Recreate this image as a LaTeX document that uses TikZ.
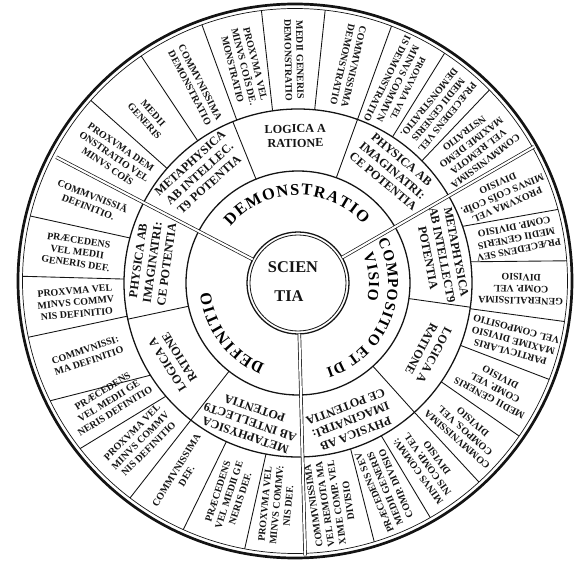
\documentclass[tikz,border=0pt]{standalone}
\usepackage{fontspec}
\setmainfont{Liberation Serif}
\usetikzlibrary{decorations.text}
\definecolor{inkC}{HTML}{141414}
\tikzset{
  rim/.style={draw=inkC, line width=1.1pt},
  sep/.style={draw=inkC, line width=0.75pt},
  axis/.style={draw=inkC, line width=0.6pt, double=white, double distance=1.8pt},
  celltext/.style={font=\bfseries\fontsize{8.5}{10}\selectfont, align=center, inner sep=0pt, text=inkC},
  blocktext/.style={font=\bfseries\fontsize{10.4}{12.3}\selectfont, align=center, inner sep=0pt, text=inkC},
  hubtext/.style={font=\bfseries\fontsize{14}{14}\selectfont, inner sep=0pt, text=inkC},
  arctext/.style={decorate, decoration={text along path, text align={fit to path}}},
}

\begin{document}
\begin{tikzpicture}[x=0.03cm, y=0.03cm]
\useasboundingbox (-298,-279) rectangle (282,283);
% rims
\draw[inkC, line width=2.3pt] (-3,2) circle[radius=277];
\draw[inkC, line width=0.6pt] (-3,2) circle[radius=272.5];
\draw[rim] (0,0) circle[radius=174];
\draw[rim] (0,0) circle[radius=112];
\draw[rim] (0,0) circle[radius=51];
\draw[inkC, line width=0.7pt] (0,0) circle[radius=48];
% middle ring separators
\foreach \a in {70,112,192,232,312,352}
  \draw[sep] (\a:112) -- (\a:174);
% outer ring separators
\begin{scope}
\clip (-3,2) circle[radius=272.5];
\foreach \ai/\ao in {19/15.5, 7/4.5, 351.5/351.8, 339/339, 325.4/325.3, 312/312.3,
    298.6/299.5, 287.6/286.3, 259.4/258.6, 245.7/245, 232/232, 220.6/217, 212/205,
    191/191.4, 178.7/178.6, 165/166, 138.8/138.6, 125.2/124.6, 110.6/110.4,
    98.4/97.6, 84.5/84.3, 70/70, 57.1/57.5, 44.6/45.3}
  \draw[sep] (\ai:174) -- (\ao:285);
\end{scope}
% the three axes
\foreach \a in {30,152.5,271.5}
  \draw[axis] (\a:51) -- (\a:272.5);

% hub
\node[hubtext] (scien) at (-5,16) {SCIEN};
\node[hubtext] (tia) at (-9,-13) {TIA};

% inner ring
\path[arctext, decoration={text={|\bfseries\fontsize{14}{14}\selectfont|DEMONSTRATIO}}]
  (140:88) arc[start angle=140, end angle=42, radius=88];
\path[arctext, decoration={text={|\bfseries\fontsize{13}{13}\selectfont|COMPOSITIO ET DI}}]
  (28:90) arc[start angle=28, end angle=-72, radius=90];
\path[arctext, decoration={text={|\bfseries\fontsize{13}{13}\selectfont|VISIO}}]
  (24:71) arc[start angle=24, end angle=-14, radius=71];
\path[arctext, decoration={text={|\bfseries\fontsize{14}{14}\selectfont|DEFINITIO}}]
  (248:88) arc[start angle=248, end angle=186, radius=88];

% middle ring
\foreach \a/\t [count=\k] in {91/{LOGICA A\\RATIONE},
    132/{METAPHYSICA\\AB INTELLEC.\\T9 POTENTIA},
    50/{PHYSICA AB\\IMAGINATRI:\\CE POTENTIA},
    11/{METAPHYSICA\\AB INTELLECT9\\POTENTIA},
    -28/{LOGICA A\\RATIONE},
    -69/{PHYSICA AB\\IMAGINATRI:\\CE POTENTIA},
    172/{PHYSICA AB\\IMAGINATRI:\\CE POTENTIA},
    212/{LOGICA A\\RATIONE},
    251/{METAPHYSICA\\AB INTELLECT9\\POTENTIA}}
  \node[blocktext, rotate=\a-90] (block\k) at (\a:147) {\t};

% outer ring
\foreach \a/\t [count=\k] in {37.5/{COMMVNISSIMA\\VEL REMOTA\\MAXIME DEMO\\NSTRATIO},
    51/{PRÆCEDENS VEL\\MEDII GENERIS\\DEMONSTRATIO.},
    63.5/{\fontsize{7.8}{9.6}\selectfont PROXVMA VEL\\MINVS COMMVN\\IS DEMONSTRATIO},
    77/{COMMVNISSIMA\\DEMONSTRATIO},
    91/{MEDII GENERIS\\DEMONSTRATIO},
    104/{PROXVMA VEL\\MINVS CO\~IS DE.\\MONSTRATIO},
    117.5/{COMMVNISSIMA\\DEMONSTRATIO},
    132/{MEDII\\GENERIS},
    145.5/{PROXVMA DEM\\ONSTRATIO VEL\\MINVS CO\~IS},
    158.5/{COMMVNISSI\=A\\DEFINITIO.},
    172/{PRÆCEDENS\\VEL MEDII\\GENERIS DEF.},
    185/{PROXVMA VEL\\MINVS COMMV\\NIS DEFINITIO},
    199/{COMMVNISSI:\\MA DEFINITIO},
    212/{PRÆCEDENS\\VEL MEDII GE\\NERIS DEFINITIO},
    225/{PROXVMA VEL\\MINVS COMMV\\NIS DEFINITIO},
    238.5/{COMMVNISSIMA\\DEF.},
    252/{PRÆCEDENS\\VEL MEDII GE\\NERIS DEF.},
    264.5/{PROXVMA VEL\\MINVS COMMV:\\NIS DEF.},
    278.5/{COMMVNISSIMA\\VEL REMOTA MA\\XIME COMP. VEL\\DIVISIO},
    293/{PRÆCEDENS SEV\\MEDII GENERIS\\COMP. DIVISIO},
    305.5/{MINVS COMMV:\\NIS COMP. VEL\\DIVISIO},
    318.5/{COMMVNISSIMA\\COMPOS. VEL\\DIVISIO},
    332/{MEDII GENERIS\\COMP. VEL\\DIVISIO},
    345/{PARTICVLARIS\\MAXIME DIVISIO\\VEL COMPOSITIO},
    358.5/{GENERALISSIMA\\COMP. VEL\\DIVISIO},
    11.5/{PRÆCEDENS SEV\\MEDII GENERIS\\COMP. DIVISIO},
    23.5/{PROXVMA VEL\\MINVS CO\~IS CO\~IP.\\DIVISIO}}
  \node[celltext, rotate=\a+180] (cell\k) at (\a:223) {\t};
\end{tikzpicture}
\end{document}
